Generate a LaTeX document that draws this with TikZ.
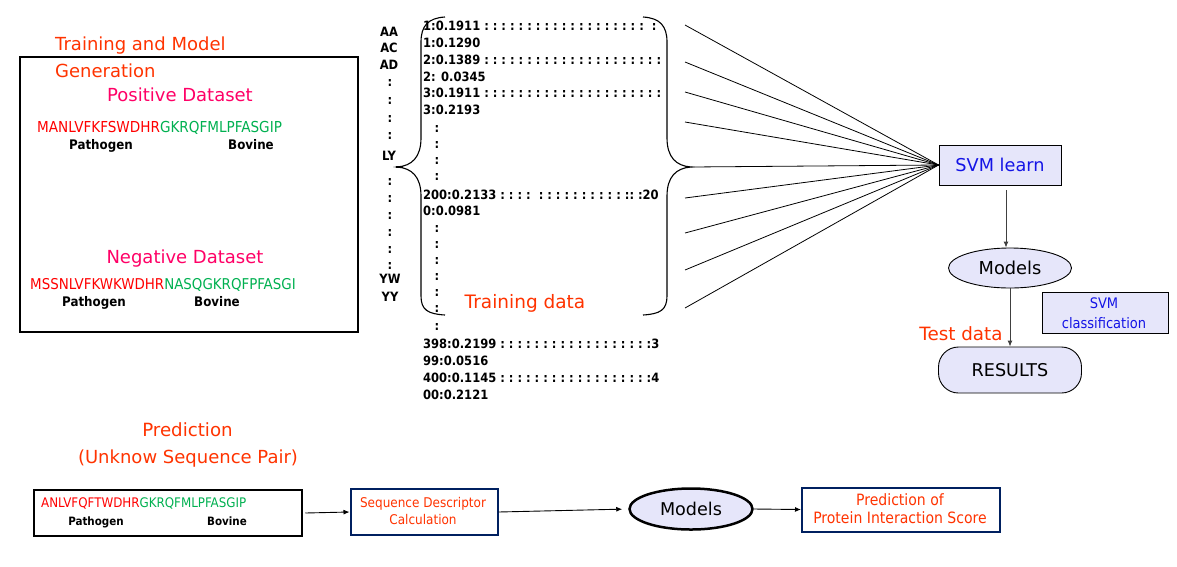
\documentclass[tikz,border=0pt]{standalone}
\usepackage{fontspec}
\setmainfont{DejaVu Sans}
\newfontfamily\cond{DejaVu Sans Condensed}
\usetikzlibrary{shapes.geometric,arrows.meta}
\definecolor{orng}{HTML}{FF3300}
\definecolor{pnk}{HTML}{FF0066}
\definecolor{sred}{HTML}{FF0000}
\definecolor{sgrn}{HTML}{00B050}
\definecolor{svblue}{HTML}{1414E6}
\definecolor{lav}{HTML}{E6E6FA}
\definecolor{navy}{HTML}{002060}
\newcommand\colrun[1]{\foreach \i in {1,...,#1}{\ :}}
\begin{document}
\begin{tikzpicture}[x=1pt,y=-1pt,
  tx/.style={inner sep=0pt, text depth=0pt, text height={0.73*#1pt}, font=\fontsize{#1}{#1}\selectfont},
  cx/.style={inner sep=0pt, text depth=0pt, text height={0.73*#1pt}, font=\cond\fontsize{#1}{#1}\selectfont},
  cb/.style={inner sep=0pt, text depth=0pt, text height={0.73*#1pt}, font=\cond\fontsize{#1}{#1}\selectfont\bfseries},
  arr/.style={-{Latex[length=6pt,width=5pt]}, line width=0.9pt},
  fan/.style={line width=0.8pt, black},
  bracestyle/.style={line width=1.1pt, black},
  lavbox/.style={draw, fill=lav, line width=0.9pt, inner sep=0pt},
  navybox/.style={draw=navy, line width=2pt, fill=white, inner sep=0pt}]
\useasboundingbox (0,0) rectangle (1177,566);

% ---------- training box ----------
\node[draw, line width=1.1pt, minimum width=338pt, minimum height=275pt, inner sep=0pt] (trainbox) at (189,194.5) {};
\node[tx=18, text=orng, anchor=west] (t1) at (55,44) {Training and Model};
\node[tx=18, text=orng, anchor=west] (t2) at (55,71) {Generation};
\node[tx=18, text=pnk] (pos) at (180,95) {Positive Dataset};
\node[cx=15.1, anchor=west] (seq1) at (37,127) {\textcolor{sred}{MANLVFKFSWDHR}\textcolor{sgrn}{GKRQFMLPFASGIP}};
\node[cb=13.2] (pa1) at (101,145) {Pathogen};
\node[cb=13.2] (bo1) at (251,145) {Bovine};
\node[tx=18, text=pnk] (neg) at (185,257) {Negative Dataset};
\node[cx=14.9, anchor=west] (seq2) at (30,284) {\textcolor{sred}{MSSNLVFKWKWDHR}\textcolor{sgrn}{NASQGKRQFPFASGI}};
\node[cb=13.2] (pa2) at (94,302) {Pathogen};
\node[cb=13.2] (bo2) at (217,302) {Bovine};

% ---------- feature labels ----------
\node[cb=12.8] (lAA) at (389,32) {AA};
\node[cb=12.8] (lAC) at (389,48) {AC};
\node[cb=12.8] (lAD) at (389,65) {AD};
\foreach \yy in {82,100,118,135,181,198,215,232,249,265}
  \node[cb=12.8] (lc\yy) at (390,\yy) {:};
\node[cb=12.8] (lLY) at (389,156) {LY};
\node[cb=12.8] (lYW) at (390,279) {YW};
\node[cb=12.8] (lYY) at (390,297) {YY};

% ---------- data column ----------
\node[cb=12.8, anchor=west] (d1) at (423,26) {1:0.1911\colrun{19}\hspace{4pt}\ :};
\node[cb=12.8, anchor=west] (d2) at (423,43) {1:0.1290};
\node[cb=12.8, anchor=west] (d3) at (423,60) {2:0.1389\colrun{21}};
\node[cb=12.8, anchor=west] (d4) at (423,77) {2: 0.0345};
\node[cb=12.8, anchor=west] (d5) at (423,93) {3:0.1911\colrun{21}};
\node[cb=12.8, anchor=west] (d6) at (423,110) {3:0.2193};
\node[cb=12.8, anchor=west] (d7) at (423,195) {200:0.2133\colrun{4}\hspace{4pt}\colrun{11}:\ :20};
\node[cb=12.8, anchor=west] (d8) at (423,211) {0:0.0981};
\node[cb=12.8, anchor=west] (d9) at (423,344) {398:0.2199\colrun{18}3};
\node[cb=12.8, anchor=west] (d10) at (423,361) {99:0.0516};
\node[cb=12.8, anchor=west] (d11) at (423,378) {400:0.1145\colrun{18}4};
\node[cb=12.8, anchor=west] (d12) at (423,395) {00:0.2121};
\foreach \yy in {128,144,160,176,228,244,260,276,292,308,326}
  \node[cb=12.8] (dc\yy) at (437,\yy) {:};
\node[tx=18.5, text=orng] (trd) at (525,302) {Training data};

% ---------- braces ----------
\draw[bracestyle] (445,17) .. controls (428,18) and (421,26) .. (421,42) -- (421,138)
  .. controls (421,157) and (412,166) .. (397,167)
  .. controls (412,168) and (421,177) .. (421,196) -- (421,296)
  .. controls (421,310) and (428,314) .. (445,315);
\draw[line width=1.6pt] (396,167) -- (403,167);
\draw[bracestyle] (643,17) .. controls (660,18) and (667,26) .. (667,42) -- (667,138)
  .. controls (667,157) and (676,166) .. (691,167)
  .. controls (676,168) and (667,177) .. (667,196) -- (667,296)
  .. controls (667,310) and (660,314) .. (643,315);

% ---------- SVM part ----------
\node[lavbox, minimum width=122pt, minimum height=40pt] (svm) at (1000,165) {};
\node[tx=17.7, text=svblue] (svmt) at (svm.center) {SVM learn};
\foreach \yy/\xx [count=\k] in {25/685,62/685,92/685,122/685,167/691,198/685,233/685,270/685,308/685}
  \coordinate (f\k) at (\xx,\yy);
\foreach \k in {1,...,9}
  \draw[fan] (f\k) -- (svm.west);

\node[ellipse, lavbox, minimum width=123pt, minimum height=40pt] (mod1) at (1010,268) {};
\node[tx=17.8] (mod1t) at (mod1.center) {Models};
\node[lavbox, rounded corners=20pt, minimum width=143pt, minimum height=46pt] (res) at (1010,370) {};
\node[tx=17.6] (rest) at (res.center) {RESULTS};
\node[lavbox, minimum width=126pt, minimum height=41pt] (svmc) at (1105,312.5) {};
\node[cx=14.5, text=svblue] (svmc1) at (1104,303) {SVM};
\node[cx=14.5, text=svblue] (svmc2) at (1104,323) {classification};
\node[tx=18.3, text=orng] (test) at (961,334) {Test data};

\draw[arr, black!75] ([xshift=6pt,yshift=-5pt]svm.south) -- ([xshift=6pt]svm.south |- mod1.north);
\draw[arr, black!75] (mod1.south) -- (res.north);

% ---------- prediction ----------
\node[tx=18.2, text=orng] (pr1) at (187.5,430) {Prediction};
\node[tx=18, text=orng] (pr2) at (188,457) {(Unknow Sequence Pair)};
\node[draw, line width=2.5pt, minimum width=268pt, minimum height=46pt, inner sep=0pt] (seqbox) at (168,513) {};
\node[cx=13.2, anchor=west] (seq3) at (41,503) {\textcolor{sred}{ANLVFQFTWDHR}\textcolor{sgrn}{GKRQFMLPFASGIP}};
\node[cb=11.5] (pa3) at (96,521) {Pathogen};
\node[cb=11.5] (bo3) at (227,521) {Bovine};

\node[navybox, minimum width=147pt, minimum height=46pt] (desc) at (424,512) {};
\node[cx=13.4, text=orng] (desc1) at (423,503) {Sequence Descriptor};
\node[cx=13.4, text=orng] (desc2) at (423,520) {Calculation};

\node[ellipse, draw, line width=2.5pt, fill=lav, minimum width=123pt, minimum height=41pt, inner sep=0pt] (mod2) at (691,509) {};
\node[tx=17.6] (mod2t) at (mod2.center) {Models};

\node[navybox, minimum width=198pt, minimum height=44pt] (pred) at (901,509.5) {};
\node[cx=15.6, text=orng] (pred1) at (900,500) {Prediction of};
\node[cx=15.6, text=orng] (pred2) at (900,518) {Protein Interaction Score};

\draw[arr] ([xshift=2pt]seqbox.east) -- (desc.west);
\draw[arr, shorten >=6pt] (desc.east) -- (mod2.west);
\draw[arr] (mod2.east) -- (pred.west);
\end{tikzpicture}
\end{document}
